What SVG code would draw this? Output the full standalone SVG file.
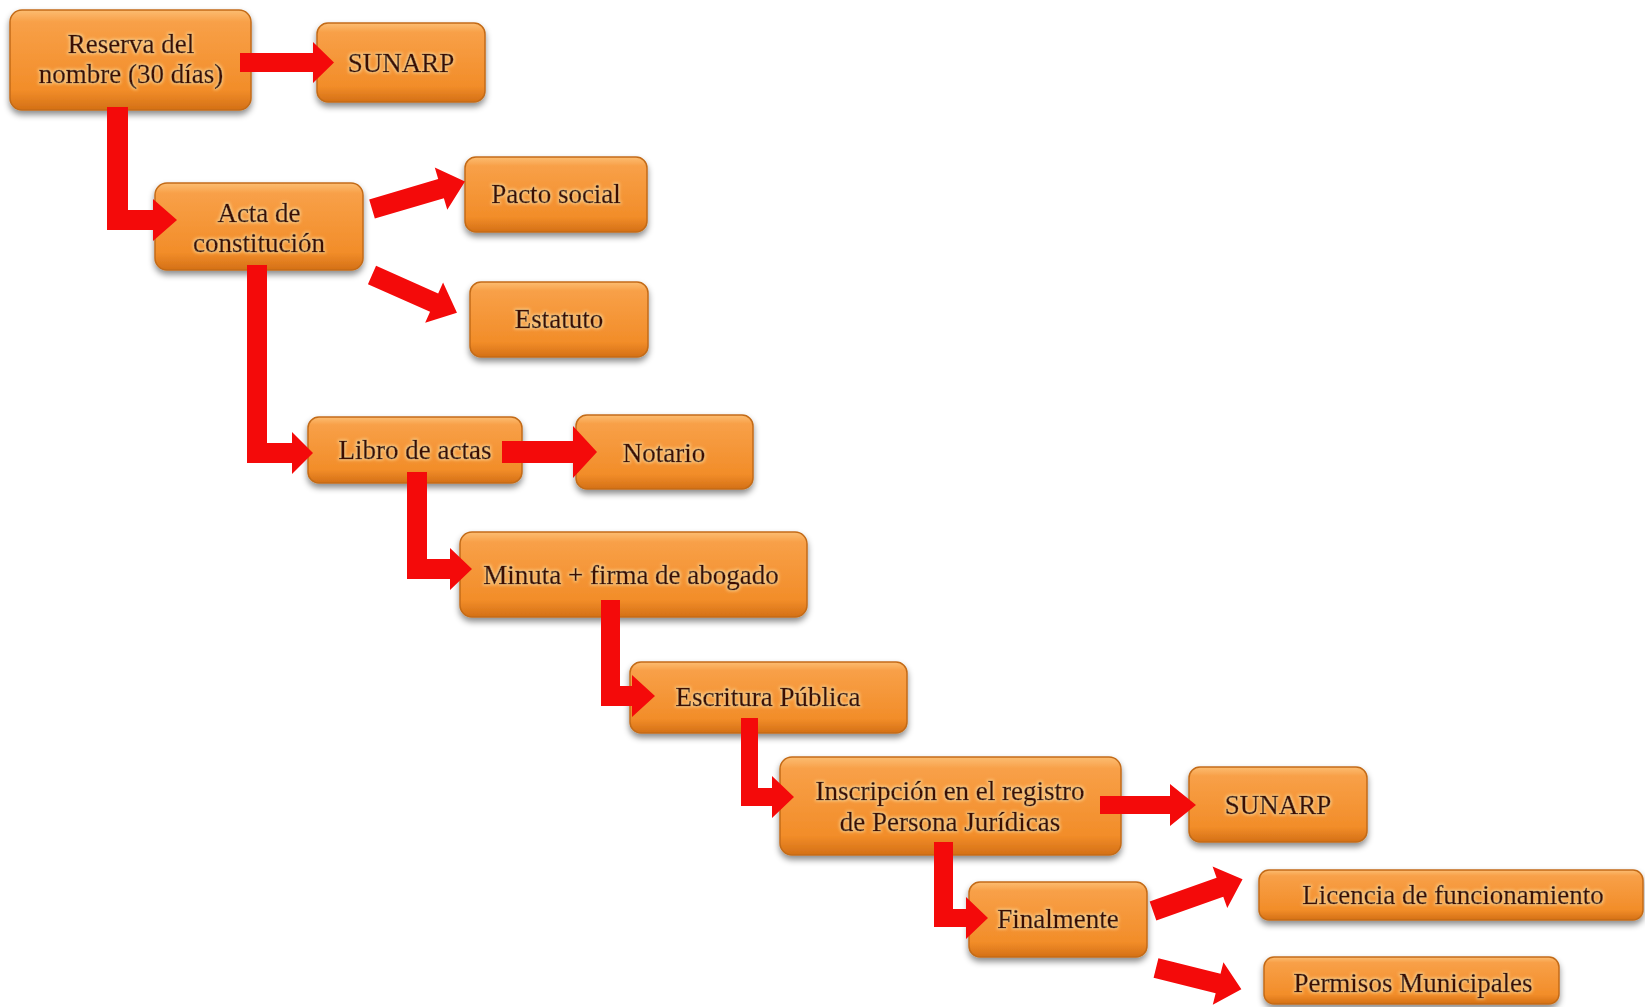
<svg xmlns="http://www.w3.org/2000/svg" width="1645" height="1007" viewBox="0 0 1645 1007">
<defs>
<linearGradient id="og" x1="0" y1="0" x2="0" y2="1">
<stop offset="0" stop-color="#fcbd72"/>
<stop offset="0.12" stop-color="#f8a048"/>
<stop offset="0.8" stop-color="#f28d29"/>
<stop offset="1" stop-color="#d47016"/>
</linearGradient>
<filter id="sh" x="-10%" y="-20%" width="120%" height="150%">
<feDropShadow dx="0" dy="4" stdDeviation="3" flood-color="#000" flood-opacity="0.45"/>
</filter>
<filter id="glow" x="-10%" y="-30%" width="120%" height="160%">
<feMorphology in="SourceAlpha" operator="dilate" radius="1" result="d"/>
<feGaussianBlur in="d" stdDeviation="1.5" result="b"/>
<feFlood flood-color="#fff2c0" flood-opacity="0.55"/>
<feComposite in2="b" operator="in" result="g"/>
<feMerge><feMergeNode in="g"/><feMergeNode in="SourceGraphic"/></feMerge>
</filter>
</defs>
<style>
.box{fill:url(#og);stroke:#c36b18;stroke-width:1.5;filter:url(#sh)}
.t{font-family:"Liberation Serif","Times New Roman",serif;font-size:27px;fill:#3e0a04;stroke:#3e0a04;stroke-width:0.5;text-anchor:middle;filter:url(#glow)}
.arr{fill:#f40a0a}
</style>
<rect width="1645" height="1007" fill="#ffffff"/>

<g id="n-reserva"><rect class="box" x="10" y="10" width="241" height="100" rx="12"/><text class="t" x="131" y="53">Reserva del</text><text class="t" x="131" y="83">nombre (30 días)</text></g>
<g id="n-sunarp1"><rect class="box" x="317" y="23" width="168" height="79" rx="11"/><text class="t" x="401" y="72">SUNARP</text></g>
<g id="n-acta"><rect class="box" x="155" y="183" width="208" height="87" rx="12"/><text class="t" x="259" y="222">Acta de</text><text class="t" x="259" y="252">constitución</text></g>
<g id="n-pacto"><rect class="box" x="465" y="157" width="182" height="75" rx="11"/><text class="t" x="556" y="203">Pacto social</text></g>
<g id="n-estatuto"><rect class="box" x="470" y="282" width="178" height="75" rx="11"/><text class="t" x="559" y="328">Estatuto</text></g>
<g id="n-libro"><rect class="box" x="308" y="417" width="214" height="66" rx="11"/><text class="t" x="415" y="459">Libro de actas</text></g>
<g id="n-notario"><rect class="box" x="576" y="415" width="177" height="74" rx="11"/><text class="t" x="664" y="462">Notario</text></g>
<g id="n-minuta"><rect class="box" x="460" y="532" width="347" height="85" rx="12"/><text class="t" x="631" y="584">Minuta + firma de abogado</text></g>
<g id="n-escritura"><rect class="box" x="630" y="662" width="277" height="71" rx="11"/><text class="t" x="768" y="706">Escritura Pública</text></g>
<g id="n-inscripcion"><rect class="box" x="780" y="757" width="341" height="98" rx="12"/><text class="t" x="950" y="800">Inscripción en el registro</text><text class="t" x="950" y="831">de Persona Jurídicas</text></g>
<g id="n-sunarp2"><rect class="box" x="1189" y="767" width="178" height="75" rx="11"/><text class="t" x="1278" y="814">SUNARP</text></g>
<g id="n-finalmente"><rect class="box" x="969" y="882" width="178" height="75" rx="11"/><text class="t" x="1058" y="928">Finalmente</text></g>
<g id="n-licencia"><rect class="box" x="1259" y="870" width="384" height="50" rx="10"/><text class="t" x="1453" y="904">Licencia de funcionamiento</text></g>
<g id="n-permisos"><rect class="box" x="1264" y="957" width="295" height="47" rx="10"/><text class="t" x="1413" y="992">Permisos Municipales</text></g>

<g id="connectors">
<polygon class="arr" points="240,53 313,53 313,42 334,62.5 313,83 313,72 240,72"/>
<polygon class="arr" points="107,107 128,107 128,210 153,210 153,199 177,220 153,241 153,230 107,230"/>
<g transform="translate(372,209) rotate(-16.5)"><polygon class="arr" points="0,-10 72,-10 72,-22 97,0 72,22 72,10 0,10"/></g>
<g transform="translate(372,275) rotate(24)"><polygon class="arr" points="0,-10 68,-10 68,-22 93,0 68,22 68,10 0,10"/></g>
<polygon class="arr" points="247,265 267,265 267,443 292,443 292,432 313,453 292,474 292,463 247,463"/>
<polygon class="arr" points="502,441 573,441 573,426 597,452 573,478 573,463 502,463"/>
<polygon class="arr" points="407,472 427,472 427,559 450,559 450,548 472,569 450,590 450,579 407,579"/>
<polygon class="arr" points="601,600 620,600 620,686 632,686 632,675 655,696 632,717 632,706 601,706"/>
<polygon class="arr" points="741,718 758,718 758,788 772,788 772,776 794,797 772,818 772,806 741,806"/>
<polygon class="arr" points="1100,796 1170,796 1170,784 1196,805 1170,826 1170,814 1100,814"/>
<polygon class="arr" points="934,842 953,842 953,909 966,909 966,897 988,918 966,939 966,927 934,927"/>
<g transform="translate(1153,911) rotate(-19.5)"><polygon class="arr" points="0,-10 71,-10 71,-22 95,0 71,22 71,10 0,10"/></g>
<g transform="translate(1156,968) rotate(14)"><polygon class="arr" points="0,-10 64,-10 64,-22 88,0 64,22 64,10 0,10"/></g>
</g>
</svg>
